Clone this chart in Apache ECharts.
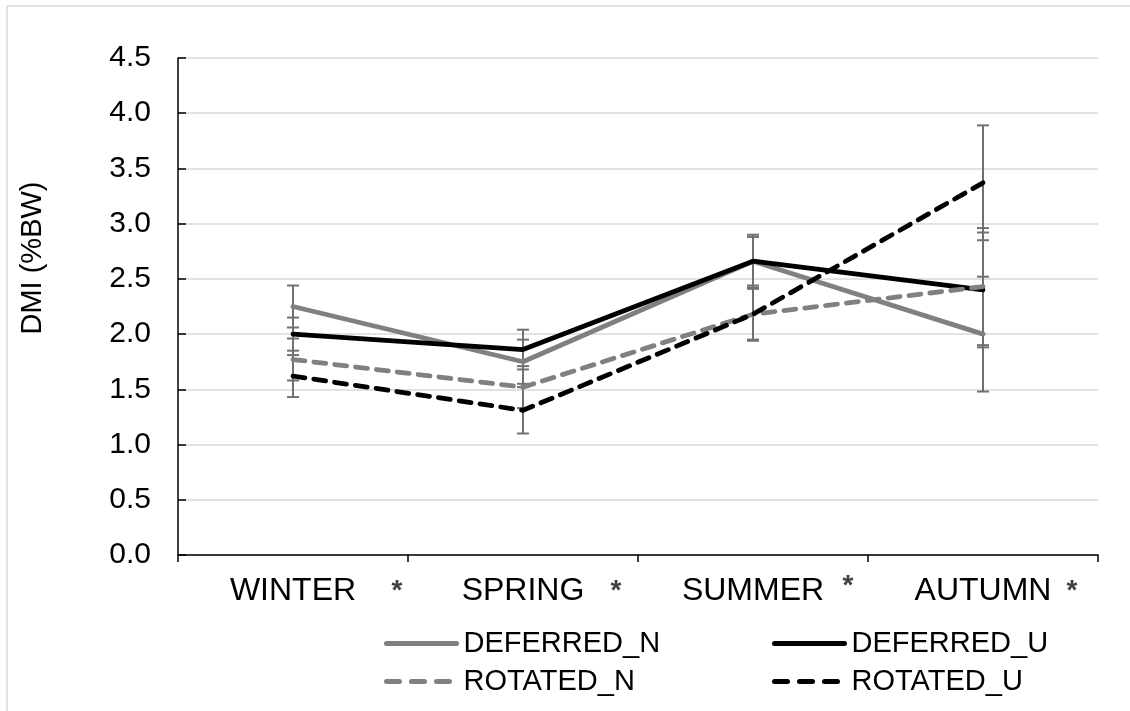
<!DOCTYPE html>
<html>
<head>
<meta charset="utf-8">
<script src="https://cdn.jsdelivr.net/npm/echarts@6/dist/echarts.min.js"></script>
<style>
html,body{margin:0;padding:0;background:#fff;}
#chart{width:1130px;height:711px;}
</style>
</head>
<body>
<div id="chart"></div>
<script>
// ---- data ----
var categories = ['WINTER', 'SPRING', 'SUMMER', 'AUTUMN'];
var yTicks = [0, 0.5, 1, 1.5, 2, 2.5, 3, 3.5, 4, 4.5];
var seriesNames = ['DEFERRED_N', 'DEFERRED_U', 'ROTATED_N', 'ROTATED_U'];
var deferredN = [2.25, 1.75, 2.66, 2.00];
var deferredU = [2.00, 1.86, 2.66, 2.40];
var rotatedN  = [1.77, 1.52, 2.18, 2.43];
var rotatedU  = [1.62, 1.31, 2.18, 3.37];
var errDeferredN = [0.19, 0.20, 0.22, 0.52];
var errDeferredU = [0.15, 0.18, 0.24, 0.52];
var errRotatedN  = [0.19, 0.19, 0.23, 0.53];
var errRotatedU  = [0.19, 0.21, 0.24, 0.52];
var significance = ['*', '*', '*', '*'];

// ---- styles ----
var FONT = '"Liberation Sans", Arial, sans-serif';
var GREY = '#808080';
var BLACK = '#000000';
var ERR = '#707070';
var values = [deferredN, deferredU, rotatedN, rotatedU];
var errs = [errDeferredN, errDeferredU, errRotatedN, errRotatedU];
var colors = [GREY, BLACK, GREY, BLACK];
var dashes = ['solid', 'solid', [12, 9], [12, 9]];
var legendDashes = ['solid', 'solid', [13, 12], [13, 12]];

var chart = echarts.init(document.getElementById('chart'), null, {renderer: 'canvas'});

var series = [];
// error bars (drawn below lines)
values.forEach(function (vals, s) {
  series.push({
    type: 'custom',
    name: seriesNames[s] + '_err',
    z: 1,
    silent: true,
    encode: {x: 0, y: [1, 2]},
    data: vals.map(function (v, i) { return [i, v - errs[s][i], v + errs[s][i]]; }),
    renderItem: function (params, api) {
      var lo = api.coord([api.value(0), api.value(1)]);
      var hi = api.coord([api.value(0), api.value(2)]);
      var hw = 6;
      var st = {stroke: ERR, lineWidth: 2};
      return {
        type: 'group',
        children: [
          {type: 'line', shape: {x1: lo[0], y1: lo[1], x2: hi[0], y2: hi[1]}, style: st},
          {type: 'line', shape: {x1: lo[0] - hw, y1: lo[1], x2: lo[0] + hw, y2: lo[1]}, style: st},
          {type: 'line', shape: {x1: hi[0] - hw, y1: hi[1], x2: hi[0] + hw, y2: hi[1]}, style: st}
        ]
      };
    }
  });
});
values.forEach(function (vals, s) {
  series.push({
    type: 'line',
    name: seriesNames[s],
    z: 3,
    data: vals,
    symbol: 'none',
    showSymbol: false,
    lineStyle: {color: colors[s], width: 4.8, type: dashes[s], cap: 'round', join: 'round'},
    itemStyle: {color: colors[s]}
  });
});

function legendItem(s) {
  return {name: seriesNames[s], lineStyle: {type: legendDashes[s], width: 5, cap: 'round'}};
}
var legendText = {fontFamily: FONT, fontSize: 29, color: '#000', padding: [0, 0, 0, 2]};
var legendCommon = {
  orient: 'vertical', top: 624, itemWidth: 70, itemHeight: 14, itemGap: 9,
  textStyle: legendText, selectedMode: false,
  itemStyle: {opacity: 0, borderWidth: 0},
  lineStyle: {width: 5, cap: 'round'}
};

var option = {
  backgroundColor: '#fff',
  animation: false,
  grid: {left: 178, right: 32, top: 58, bottom: 156, containLabel: false},
  xAxis: {
    type: 'category',
    data: categories,
    boundaryGap: true,
    axisLine: {show: true, lineStyle: {color: '#000', width: 1.5}},
    axisTick: {show: true, inside: false, length: 7, alignWithLabel: false, lineStyle: {color: '#000', width: 1.5}},
    axisLabel: {fontFamily: FONT, fontSize: 32, color: '#000', margin: 20},
    splitLine: {show: false}
  },
  yAxis: {
    type: 'value',
    min: 0, max: 4.5, interval: 0.5,
    axisLine: {show: true, lineStyle: {color: '#000', width: 1.5}},
    axisTick: {show: true, inside: true, length: 8, lineStyle: {color: '#000', width: 1.5}},
    axisLabel: {fontFamily: FONT, fontSize: 30, color: '#000', margin: 27,
      formatter: function (v) { return v.toFixed(1); }},
    splitLine: {show: true, lineStyle: {color: '#d9d9d9', width: 1.5}}
  },
  legend: [
    Object.assign({data: [legendItem(0), legendItem(2)], left: 379}, legendCommon),
    Object.assign({data: [legendItem(1), legendItem(3)], left: 767}, legendCommon)
  ],
  graphic: [
    {type: 'line', shape: {x1: 7, y1: 6, x2: 1130, y2: 6}, style: {stroke: '#d9d9d9', lineWidth: 1.5}, silent: true},
    {type: 'line', shape: {x1: 7, y1: 6, x2: 7, y2: 711}, style: {stroke: '#d9d9d9', lineWidth: 1.5}, silent: true},
    {type: 'text', x: 33, y: 258, rotation: Math.PI / 2,
     style: {text: 'DMI (%BW)', font: '29px ' + FONT, fill: '#000', textAlign: 'center', textVerticalAlign: 'middle'}}
  ],
  series: series
};
chart.setOption(option);

// significance asterisks next to category labels
var starX = [397, 616, 848, 1072];
var starY = [591, 591, 586, 591];
var g = option.graphic.slice();
significance.forEach(function (t, i) {
  g.push({type: 'text', x: starX[i], y: starY[i],
    style: {text: t, font: 'bold 28px ' + FONT, fill: '#404040', textAlign: 'center', textVerticalAlign: 'middle'}});
});
chart.setOption({graphic: g});
</script>
</body>
</html>
